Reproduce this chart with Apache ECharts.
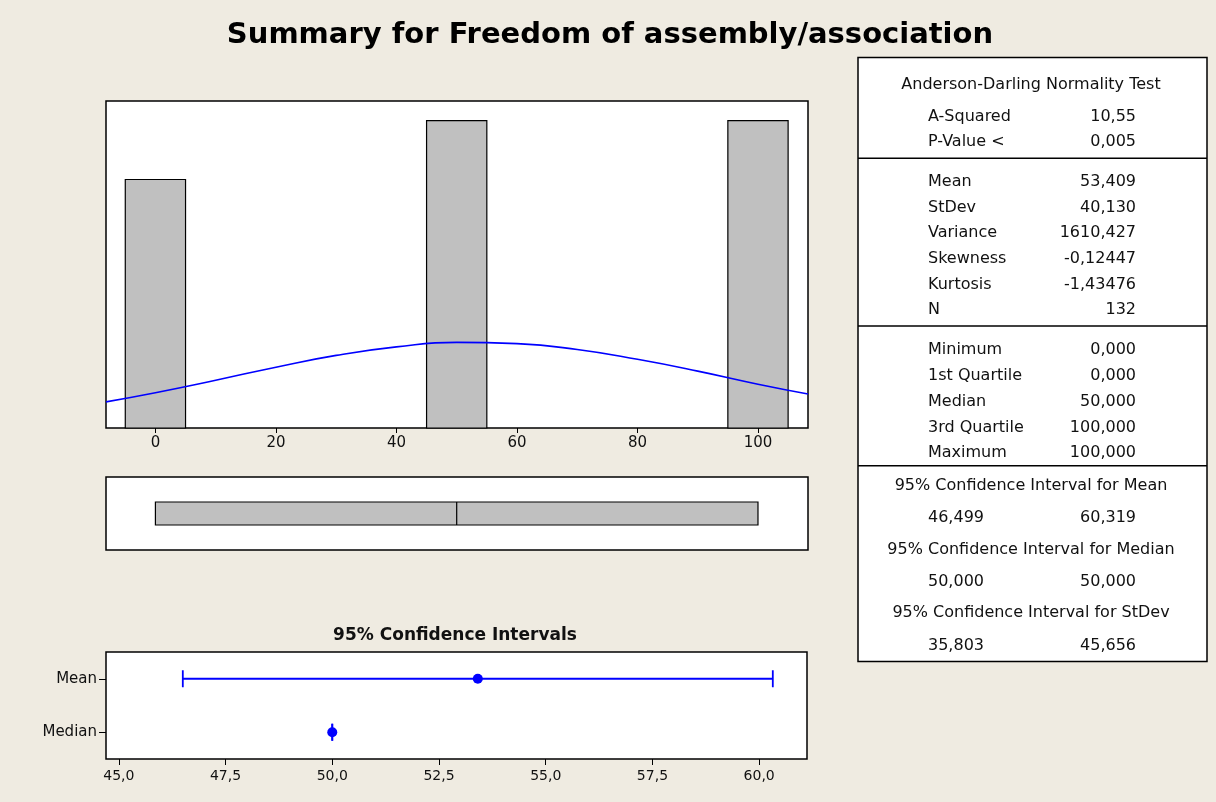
<!DOCTYPE html>
<html>
<head>
<meta charset="utf-8">
<title>Summary for Freedom of assembly/association</title>
<script src="https://cdn.jsdelivr.net/npm/echarts@6/dist/echarts.min.js"></script>
<style>
  html, body { margin: 0; padding: 0; background: #EFEBE1; }
  #chart { width: 1216px; height: 802px; }
</style>
</head>
<body>
<div id="chart"></div>
<script>
// histogram bins
const binStart = [-5, 45, 95]
const binEnd = [5, 55, 105]
const binCount = [38, 47, 47]
// fitted normal curve (counts)
const curveX = [-8.2, 0, 10, 20, 30, 40, 50, 60, 70, 80, 90, 100, 108.3]
const curveY = [4.0, 5.4, 7.3, 9.3, 11.1, 12.4, 13.1, 12.9, 12.0, 10.5, 8.7, 6.7, 5.2]
const histTicks = [0, 20, 40, 60, 80, 100]

// boxplot: min, Q1, median, Q3, max
const boxStats = [0, 0, 50, 100, 100]

// 95% confidence intervals
const ciNames = ['Median', 'Mean']
const ciLow = [50.0, 46.499]
const ciHigh = [50.0, 60.319]
const ciPoint = [50.0, 53.409]
const ciTicks = [45, 47.5, 50, 52.5, 55, 57.5, 60]

// summary table
const adLabels = ['A-Squared', 'P-Value <']
const adValues = ['10,55', '0,005']
const momentLabels = ['Mean', 'StDev', 'Variance', 'Skewness', 'Kurtosis', 'N']
const momentValues = ['53,409', '40,130', '1610,427', '-0,12447', '-1,43476', '132']
const quantLabels = ['Minimum', '1st Quartile', 'Median', '3rd Quartile', 'Maximum']
const quantValues = ['0,000', '0,000', '50,000', '100,000', '100,000']
const ciTitles = ['95% Confidence Interval for Mean', '95% Confidence Interval for Median', '95% Confidence Interval for StDev']
const ciTableLow = ['46,499', '50,000', '35,803']
const ciTableHigh = ['60,319', '50,000', '45,656']

const FONT = 'DejaVu Sans'
const BLUE = '#0000FF'

function tableGraphics() {
  const g = []
  const txt = (x, y, s, align) => g.push({
    type: 'text', x: x, y: y,
    style: { text: s, fill: '#111', font: '16px "' + FONT + '"', textAlign: align, textVerticalAlign: 'middle' }
  })
  const hline = (y) => g.push({
    type: 'line', shape: { x1: 858, y1: y, x2: 1207, y2: y },
    style: { stroke: '#000', lineWidth: 1.5 }
  })
  g.push({
    type: 'rect', shape: { x: 858, y: 57.5, width: 349, height: 604 },
    style: { fill: '#fff', stroke: '#000', lineWidth: 1.5 }
  })
  hline(158.3)
  hline(326)
  hline(465.7)
  const labX = 928, valX = 1136
  txt(1031, 84.5, 'Anderson-Darling Normality Test', 'center')
  adLabels.forEach((s, i) => { txt(labX, 116.7 + i * 25, s, 'left'); txt(valX, 116.7 + i * 25, adValues[i], 'right') })
  momentLabels.forEach((s, i) => { txt(labX, 181.7 + i * 25.7, s, 'left'); txt(valX, 181.7 + i * 25.7, momentValues[i], 'right') })
  quantLabels.forEach((s, i) => { txt(labX, 350 + i * 25.8, s, 'left'); txt(valX, 350 + i * 25.8, quantValues[i], 'right') })
  ciTitles.forEach((s, i) => {
    const y = 485.7 + i * 63.8
    txt(1031, y, s, 'center')
    txt(labX, y + 32.5, ciTableLow[i], 'left')
    txt(valX, y + 32.5, ciTableHigh[i], 'right')
  })
  return g
}

const axisLabelStyle = { color: '#111', fontFamily: FONT, fontSize: 15 }

const chart = echarts.init(document.getElementById('chart'))
chart.setOption({
  backgroundColor: '#EFEBE1',
  animation: false,
  grid: [
    { left: 106, top: 101, width: 702, height: 327, show: true, backgroundColor: '#fff', borderColor: '#000', borderWidth: 1.5 },
    { left: 106, top: 477, width: 702, height: 73, show: true, backgroundColor: '#fff', borderColor: '#000', borderWidth: 1.5 },
    { left: 106, top: 652, width: 701, height: 107, show: true, backgroundColor: '#fff', borderColor: '#000', borderWidth: 1.5 }
  ],
  xAxis: [
    {
      gridIndex: 0, type: 'value', min: -8.2, max: 108.3,
      axisLine: { show: false },
      axisTick: { show: true, length: 5, lineStyle: { color: '#000' }, customValues: histTicks },
      axisLabel: Object.assign({ margin: 8, customValues: histTicks }, axisLabelStyle),
      splitLine: { show: false }
    },
    {
      gridIndex: 1, type: 'value', min: -8.2, max: 108.3, show: false
    },
    {
      gridIndex: 2, type: 'value', min: 44.7, max: 61.12,
      axisLine: { show: false },
      axisTick: { show: true, length: 6, lineStyle: { color: '#000' }, customValues: ciTicks },
      axisLabel: {
        margin: 10, fontSize: 14, color: '#111', fontFamily: FONT, customValues: ciTicks,
        formatter: v => v.toFixed(1).replace('.', ',')
      },
      splitLine: { show: false }
    }
  ],
  yAxis: [
    { gridIndex: 0, type: 'value', min: 0, max: 50, show: false },
    { gridIndex: 1, type: 'category', data: ['box'], show: false },
    {
      gridIndex: 2, type: 'category', data: ciNames,
      axisLine: { show: false },
      axisTick: { show: true, length: 7, alignWithLabel: true, lineStyle: { color: '#000' } },
      axisLabel: Object.assign({ margin: 9 }, axisLabelStyle)
    }
  ],
  graphic: [
    {
      type: 'text', x: 610, y: 35,
      style: { text: 'Summary for Freedom of assembly/association', fill: '#000', font: 'bold 29px "' + FONT + '"', textAlign: 'center', textVerticalAlign: 'middle' }
    },
    {
      type: 'text', x: 455, y: 636,
      style: { text: '95% Confidence Intervals', fill: '#111', font: 'bold 17px "' + FONT + '"', textAlign: 'center', textVerticalAlign: 'middle' }
    }
  ].concat(tableGraphics()),
  series: [
    {
      name: 'histogram',
      type: 'custom',
      xAxisIndex: 0, yAxisIndex: 0,
      data: binCount.map((c, i) => [binStart[i], binEnd[i], c]),
      encode: { x: [0, 1], y: 2 },
      renderItem: (params, api) => {
        const p0 = api.coord([api.value(0), api.value(2)])
        const p1 = api.coord([api.value(1), 0])
        return {
          type: 'rect',
          shape: { x: p0[0], y: p0[1], width: p1[0] - p0[0], height: p1[1] - p0[1] },
          style: { fill: '#C0C0C0', stroke: '#000', lineWidth: 1.2 }
        }
      },
      z: 2
    },
    {
      name: 'normal fit',
      type: 'line',
      xAxisIndex: 0, yAxisIndex: 0,
      data: curveX.map((x, i) => [x, curveY[i]]),
      smooth: true,
      showSymbol: false,
      lineStyle: { color: BLUE, width: 1.6 },
      z: 3
    },
    {
      name: 'boxplot',
      type: 'boxplot',
      xAxisIndex: 1, yAxisIndex: 1,
      data: [boxStats],
      boxWidth: [23, 23],
      itemStyle: { color: '#C0C0C0', borderColor: '#000', borderWidth: 1.2 }
    },
    {
      name: 'ci',
      type: 'custom',
      xAxisIndex: 2, yAxisIndex: 2,
      data: ciNames.map((n, i) => [i, ciLow[i], ciHigh[i]]),
      encode: { x: [1, 2], y: 0 },
      renderItem: (params, api) => {
        const a = api.coord([api.value(1), api.value(0)])
        const b = api.coord([api.value(2), api.value(0)])
        const h = 8.5
        const st = { stroke: BLUE, lineWidth: 1.8 }
        return {
          type: 'group',
          children: [
            { type: 'line', shape: { x1: a[0], y1: a[1], x2: b[0], y2: b[1] }, style: st },
            { type: 'line', shape: { x1: a[0], y1: a[1] - h, x2: a[0], y2: a[1] + h }, style: st },
            { type: 'line', shape: { x1: b[0], y1: b[1] - h, x2: b[0], y2: b[1] + h }, style: st }
          ]
        }
      }
    },
    {
      name: 'estimate',
      type: 'scatter',
      xAxisIndex: 2, yAxisIndex: 2,
      data: ciNames.map((n, i) => [ciPoint[i], n]),
      symbolSize: 10,
      itemStyle: { color: BLUE, opacity: 1 },
      z: 5
    }
  ]
})
</script>
</body>
</html>
